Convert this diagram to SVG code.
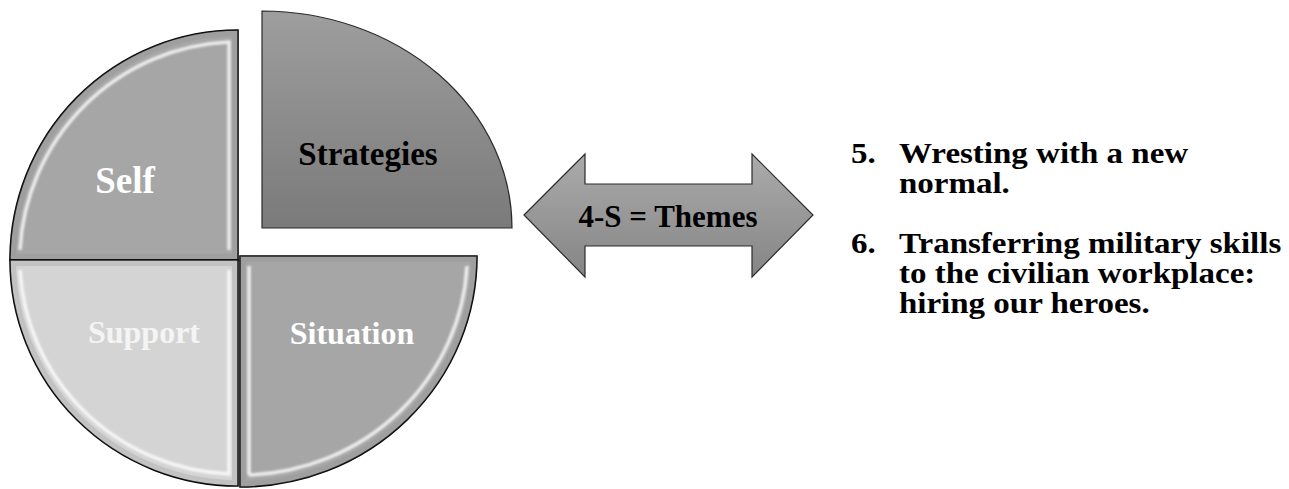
<svg xmlns="http://www.w3.org/2000/svg" width="1289" height="489" viewBox="0 0 1289 489">
  <defs>
    <linearGradient id="gStrat" x1="0" y1="0" x2="0" y2="1">
      <stop offset="0" stop-color="#9e9e9e"/>
      <stop offset="1" stop-color="#7a7a7a"/>
    </linearGradient>
    <linearGradient id="gArrow" x1="0" y1="0" x2="0" y2="1">
      <stop offset="0" stop-color="#ababab"/>
      <stop offset="1" stop-color="#858585"/>
    </linearGradient>
    <filter id="soft" x="-5%" y="-5%" width="110%" height="110%">
      <feGaussianBlur stdDeviation="0.9"/>
    </filter>
  </defs>
  <style>
    .slice { stroke: #000; stroke-width: 1.6; }
    .bevel { fill: none; stroke: #ffffff; stroke-width: 3.5; stroke-opacity: 0.8; filter: url(#soft); }
    .rim { fill: none; stroke: #8c8c8c; stroke-width: 6; stroke-opacity: 0.25; }
    .lbl { font-family: "Liberation Serif", "Times New Roman", serif; font-weight: bold; text-anchor: middle; }
    .body { font-family: "Liberation Serif", "Times New Roman", serif; font-weight: bold; font-size: 30px; fill: #000; }
  </style>

  <!-- pie slices -->
  <g id="self">
    <path class="slice" d="M238,260 L238,30 A228,230 0 0 0 10,260 Z" fill="#a6a6a6"/>
    <path class="rim" d="M235,257 L235,33 A225,227 0 0 0 13,257 Z"/>
    <path class="bevel" d="M229,250 L229,42 A219,220 0 0 0 20,250"/>
    <text class="lbl" x="125" y="193" font-size="37" fill="#ffffff">Self</text>
  </g>

  <g id="support">
    <path class="slice" d="M238,260 L10,260 A228,226 0 0 0 238,486 Z" fill="#d4d4d4"/>
    <path class="rim" d="M235,263 L13,263 A225,223 0 0 0 235,483 Z"/>
    <path class="bevel" d="M229,270 L229,474 A219,216 0 0 1 20,270"/>
    <text class="lbl" x="144" y="343" font-size="32" fill="#f4f4f4">Support</text>
  </g>

  <g id="situation">
    <path class="slice" d="M240,256 L477,256 A237,231 0 0 1 240,487 Z" fill="#a6a6a6"/>
    <path class="rim" d="M243,259 L474,259 A234,228 0 0 1 243,484 Z"/>
    <path class="bevel" d="M249,475 L249,266 M467,266 A227,221 0 0 1 249,475"/>
    <text class="lbl" x="352" y="344" font-size="32" fill="#ffffff">Situation</text>
  </g>

  <g id="strategies">
    <path d="M262,228 L262,11 A250,217 0 0 1 512,228 Z" fill="url(#gStrat)" stroke="#2b2b2b" stroke-width="1.2"/>
    <text class="lbl" x="368" y="165" font-size="33" fill="#000000">Strategies</text>
  </g>

  <!-- double-headed arrow -->
  <g id="themes">
    <path d="M524,215 L585,154 L585,184 L752,184 L752,154 L813,215 L752,277 L752,246 L585,246 L585,277 Z" fill="url(#gArrow)" stroke="#2b2b2b" stroke-width="1.2"/>
    <text class="lbl" x="668" y="227" font-size="31" fill="#000000">4-S = Themes</text>
  </g>

  <!-- theme list, set slightly wide -->
  <g id="themes-list" transform="translate(851,0) scale(1.1,1) translate(-851,0)">
    <text class="body" x="851" y="163">5.</text>
    <text class="body" x="894.6" y="163">Wresting with a new</text>
    <text class="body" x="894.6" y="193">normal.</text>
    <text class="body" x="851" y="253">6.</text>
    <text class="body" x="894.6" y="253">Transferring military skills</text>
    <text class="body" x="894.6" y="283">to the civilian workplace:</text>
    <text class="body" x="894.6" y="313">hiring our heroes.</text>
  </g>
</svg>
